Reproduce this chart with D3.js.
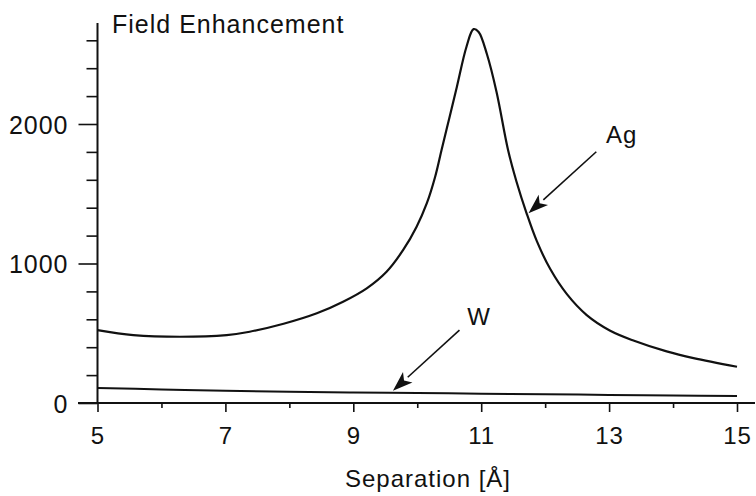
<!DOCTYPE html>
<html>
<head>
<meta charset="utf-8">
<script src="https://cdn.jsdelivr.net/npm/d3@7/dist/d3.min.js"></script>
<style>
  html, body { margin: 0; padding: 0; background: #fff; }
  svg text { font-family: "Liberation Sans", Arial, Helvetica, sans-serif; fill: #111; letter-spacing: 1px; }
</style>
</head>
<body>
<svg id="chart" width="756" height="496"></svg>
<script>
// Field enhancement vs. tip–surface separation for Ag and W
const agSeparation = [5.00, 5.56, 6.29, 7.02, 7.38, 7.91, 8.43, 8.84, 9.21, 9.52, 9.78, 9.99, 10.15, 10.28,
                      10.38, 10.50, 10.62, 10.77, 10.88, 10.96, 11.09, 11.24, 11.42, 11.55, 11.71, 11.87,
                      12.08, 12.34, 12.65, 13.01, 13.38, 13.90, 14.32, 15.00];
const agEnhancement = [523, 487, 475, 487, 511, 568, 643, 726, 822, 941, 1097, 1264, 1432, 1622,
                       1814, 2040, 2267, 2554, 2680, 2660, 2500, 2230, 1814, 1590, 1360, 1160,
                       960, 780, 630, 520, 448, 370, 322, 260];

const wSeparation = [5, 6, 7, 8, 9, 10, 11, 12, 13, 14, 15];
const wEnhancement = [108, 97, 87, 80, 75, 71, 67, 63, 58, 54, 50];

const xTickValues = [5, 6, 7, 8, 9, 10, 11, 12, 13, 14, 15];
const xTickLabels = ["5", "", "7", "", "9", "", "11", "", "13", "", "15"];
const yTickValues = [0, 200, 400, 600, 800, 1000, 1200, 1400, 1600, 1800, 2000, 2200, 2400, 2600];
const yTickLabels = ["0", "", "", "", "", "1000", "", "", "", "", "2000", "", "", ""];

const annotations = [
  { label: "Ag", text: [12.95, 1864], from: [12.80, 1801], to: [11.74, 1360] },
  { label: "W",  text: [10.78, 559],  from: [10.66, 523],  to: [9.62, 88] }
];

const yTitle = "Field Enhancement";
const xTitle = "Separation [Å]";

const svg = d3.select("#chart");
const x = d3.scaleLinear().domain([5, 15]).range([97.5, 737]);
const y = d3.scaleLinear().domain([0, 2600]).range([403, 40.3]);
const ink = "#111";

// x axis: line runs past the last tick to the edge
svg.append("line")
  .attr("x1", 78).attr("x2", 755)
  .attr("y1", y(0)).attr("y2", y(0))
  .attr("stroke", ink).attr("stroke-width", 2);
// y axis line extends a little above the top tick
svg.append("line")
  .attr("x1", x(5)).attr("x2", x(5))
  .attr("y1", 23).attr("y2", y(0))
  .attr("stroke", ink).attr("stroke-width", 2);

const xAxis = d3.axisBottom(x).tickValues(xTickValues).tickSize(0).tickFormat((d, i) => xTickLabels[i]);
const gx = svg.append("g").attr("transform", `translate(0,${y(0)})`).call(xAxis);
gx.select(".domain").remove();
gx.selectAll(".tick line").remove();
gx.selectAll(".tick").append("line")
  .attr("y1", 0).attr("y2", (d, i) => xTickLabels[i] ? 9 : 5)
  .attr("stroke", ink).attr("stroke-width", 1.6);
gx.selectAll(".tick text")
  .attr("y", 41).attr("dy", 0)
  .style("font-size", "24px").style("fill", ink);

const yAxis = d3.axisLeft(y).tickValues(yTickValues).tickSize(0).tickFormat((d, i) => yTickLabels[i]);
const gy = svg.append("g").attr("transform", `translate(${x(5)},0)`).call(yAxis);
gy.select(".domain").remove();
gy.selectAll(".tick line").remove();
gy.selectAll(".tick").append("line")
  .attr("x1", 0).attr("x2", (d, i) => yTickLabels[i] ? -19 : -11)
  .attr("stroke", ink).attr("stroke-width", 1.6);
gy.selectAll(".tick text")
  .attr("x", -29).attr("dy", "0.36em")
  .style("font-size", "25px").style("fill", ink).attr("text-anchor", "end");

// curves
const line = d3.line().x(d => x(d[0])).y(d => y(d[1])).curve(d3.curveCatmullRom.alpha(0.5));
svg.append("path")
  .datum(agSeparation.map((s, i) => [s, agEnhancement[i]]))
  .attr("d", line).attr("fill", "none").attr("stroke", ink).attr("stroke-width", 2.2);
svg.append("path")
  .datum(wSeparation.map((s, i) => [s, wEnhancement[i]]))
  .attr("d", line).attr("fill", "none").attr("stroke", ink).attr("stroke-width", 2);

// titles
svg.append("text").attr("x", 112).attr("y", 33).style("font-size", "25px").text(yTitle);
svg.append("text").attr("x", 428).attr("y", 487).attr("text-anchor", "middle").style("font-size", "24px").text(xTitle);

// labelled arrows
annotations.forEach(a => {
  const x0 = x(a.from[0]), y0 = y(a.from[1]);
  const x1 = x(a.to[0]), y1 = y(a.to[1]);
  const ang = Math.atan2(y1 - y0, x1 - x0);
  const headLen = 20, headHalf = 7;
  const bx = x1 - headLen * Math.cos(ang), by = y1 - headLen * Math.sin(ang);
  svg.append("line")
    .attr("x1", x0).attr("y1", y0).attr("x2", bx).attr("y2", by)
    .attr("stroke", ink).attr("stroke-width", 1.6);
  const px = -Math.sin(ang) * headHalf, py = Math.cos(ang) * headHalf;
  const nx = x1 - (headLen - 5) * Math.cos(ang), ny = y1 - (headLen - 5) * Math.sin(ang);
  svg.append("path")
    .attr("d", `M${x1},${y1}L${bx + px},${by + py}L${nx},${ny}L${bx - px},${by - py}Z`)
    .attr("fill", ink);
  svg.append("text").attr("x", x(a.text[0])).attr("y", y(a.text[1]))
    .style("font-size", "24px").text(a.label);
});
</script>
</body>
</html>
